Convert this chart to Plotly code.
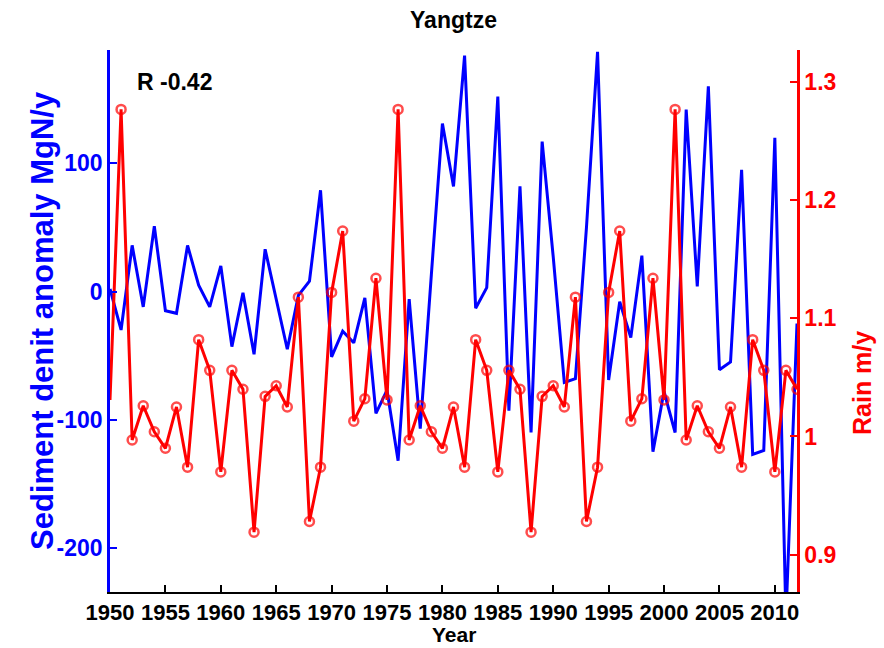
import plotly.graph_objects as go

# ---------------- data ----------------
years = list(range(1950, 2013))

sediment = [2, -30, 36, -12, 51, -15, -17, 36, 5, -12,
            20, -43, -1, -49, 33, -6, -45, -3, 8, 79,
            -51, -31, -40, -5, -95, -77, -132, -6, -107, 13,
            131, 82, 184, -13, 3, 152, -93, 82, -110, 117,
            27, -71, -68, 50, 187, -69, -8, -36, 28, -125,
            -78, -110, 142, 4, 160, -61, -55, 95, -127, -124,
            120, -255, -25]

rain = [1.031, 1.277, 0.997, 1.026, 1.004, 0.990, 1.025, 0.974, 1.082, 1.056,
        0.970, 1.056, 1.040, 0.919, 1.034, 1.043, 1.025, 1.118, 0.928, 0.974,
        1.122, 1.174, 1.013, 1.032, 1.134, 1.031, 1.277, 0.997, 1.026, 1.004,
        0.990, 1.025, 0.974, 1.082, 1.056, 0.970, 1.056, 1.040, 0.919, 1.034,
        1.043, 1.025, 1.118, 0.928, 0.974, 1.122, 1.174, 1.013, 1.032, 1.134,
        1.031, 1.277, 0.997, 1.026, 1.004, 0.990, 1.025, 0.974, 1.082, 1.056,
        0.970, 1.056, 1.040]

x_ticks = list(range(1950, 2011, 5))
left_ticks = [-200, -100, 0, 100]
left_ticktext = ["-200", "-100", "0", "100"]
right_ticks = [0.9, 1.0, 1.1, 1.2, 1.3]
right_ticktext = ["0.9", "1", "1.1", "1.2", "1.3"]

title_text = "Yangtze"
r_text = "R -0.42"
x_title = "Year"
left_title = "Sediment denit anomaly MgN/y"
right_title = "Rain m/y"

# ---------------- styling ----------------
BLUE = "#0000FF"
RED = "#FF0000"
FONT = "Liberation Sans, Arial, Helvetica, sans-serif"
FS = 23

marker_sizes = [0] + [9] * (len(years) - 1)

fig = go.Figure()
fig.add_trace(go.Scatter(
    x=years, y=sediment, mode="lines",
    line=dict(color=BLUE, width=3),
    yaxis="y", showlegend=False, hoverinfo="skip"))
fig.add_trace(go.Scatter(
    x=years, y=rain, mode="lines+markers",
    line=dict(color=RED, width=3),
    marker=dict(symbol="circle-open", size=marker_sizes, color=RED,
                line=dict(width=2.5, color=RED)),
    yaxis="y2", showlegend=False, hoverinfo="skip"))


def bold(size, color):
    return dict(family=FONT, size=size, color=color, weight="bold")


fig.update_layout(
    width=884, height=648,
    margin=dict(l=110, r=87, t=50, b=56, autoexpand=False),
    paper_bgcolor="white", plot_bgcolor="white",
    font=dict(family=FONT, size=FS, color="black"),
    title=dict(text=title_text, x=0.513, xanchor="center",
               y=1 - 20 / 648, yanchor="middle", yref="container",
               font=bold(FS, "black")),
    xaxis=dict(range=[1950, 2012], tickvals=x_ticks, automargin=False,
               ticks="inside", ticklen=7, tickwidth=2, tickcolor="black",
               showline=True, linecolor="black", linewidth=2,
               showgrid=False, zeroline=False,
               tickfont=bold(22, "black")),
    yaxis=dict(range=[-234.4, 188.4], tickvals=left_ticks, ticktext=left_ticktext,
               automargin=False,
               ticks="inside", ticklen=7, tickwidth=2, tickcolor=BLUE,
               showline=True, linecolor=BLUE, linewidth=2.5,
               showgrid=False, zeroline=False,
               tickfont=bold(FS, BLUE)),
    yaxis2=dict(range=[0.8683, 1.3273], tickvals=right_ticks, ticktext=right_ticktext,
                overlaying="y", side="right", automargin=False,
                ticks="inside", ticklen=7, tickwidth=2, tickcolor=RED,
                showline=True, linecolor=RED, linewidth=2.5,
                showgrid=False, zeroline=False,
                tickfont=bold(FS, RED)),
    annotations=[
        dict(text=r_text, xref="paper", yref="paper",
             x=0.036, y=0.941, xanchor="left", yanchor="middle",
             showarrow=False, font=bold(FS, "black")),
        dict(text=x_title, xref="paper", yref="paper",
             x=0.5, y=(592 - 647) / 542, xanchor="center", yanchor="bottom",
             borderpad=0, showarrow=False, font=bold(21, "black")),
        dict(text=left_title, xref="paper", yref="paper", textangle=-90,
             x=(42 - 110) / 687, y=0.5, xanchor="center", yanchor="middle",
             showarrow=False, font=bold(31, BLUE)),
        dict(text=right_title, xref="paper", yref="paper", textangle=-90,
             x=(862 - 110) / 687, y=(592 - 383) / 542, xanchor="center", yanchor="middle",
             showarrow=False, font=bold(25, RED)),
    ],
)

fig.write_html("out.html")
